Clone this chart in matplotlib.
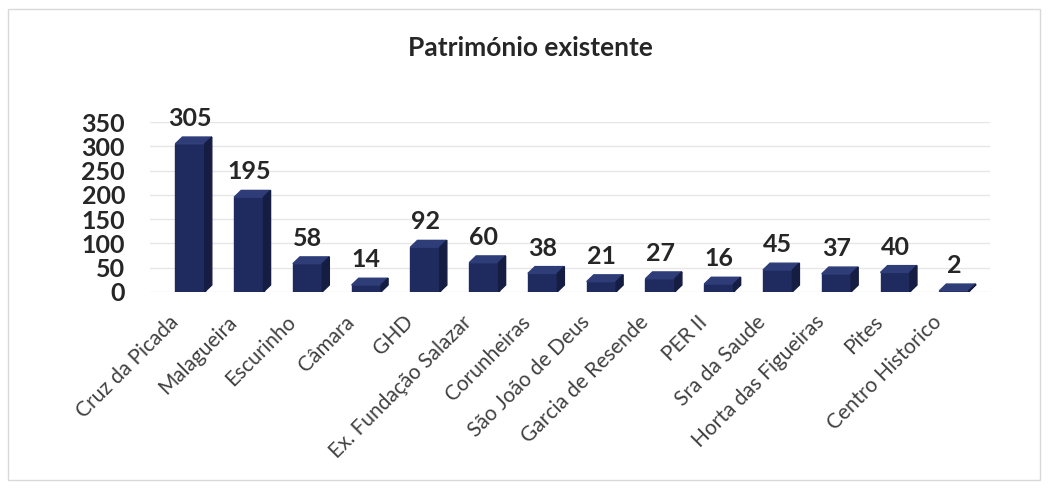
import matplotlib.pyplot as plt
import matplotlib.transforms as mtransforms
from matplotlib.patches import Polygon, Rectangle

plt.rcParams['font.family'] = ['Lato', 'DejaVu Sans']

bairros = ["Cruz da Picada", "Malagueira", "Escurinho", "Câmara", "GHD",
           "Ex. Fundação Salazar", "Corunheiras", "São João de Deus",
           "Garcia de Resende", "PER II", "Sra da Saude", "Horta das Figueiras",
           "Pites", "Centro Historico"]
valores = [305, 195, 58, 14, 92, 60, 38, 21, 27, 16, 45, 37, 40, 2]
y_ticks = [0, 50, 100, 150, 200, 250, 300, 350]

bar_color = "#1f2b5e"
top_color = "#2e3d78"
side_color = "#151d42"

fig = plt.figure(figsize=(10.57, 4.88), dpi=100)
fig.patches.append(Rectangle((0.008, 0.016), 0.976, 0.965, transform=fig.transFigure,
                             fill=False, edgecolor="#d9d9d9", linewidth=1))

ax = fig.add_axes([0.142, 0.402, 0.795, 0.348])
ax.set_xlim(-0.68, 13.62)
ax.set_ylim(0, 350)

width = 0.5
dx = 0.12
dy = 14
xs = list(range(len(bairros)))
ax.bar(xs, valores, width=width, color=bar_color, edgecolor=bar_color, zorder=3)
# faces de topo e lateral (efeito 3D)
for x, v in zip(xs, valores):
    left, right = x - width / 2, x + width / 2
    top = Polygon([(left, v), (left + dx, v + dy), (right + dx, v + dy), (right, v)],
                  closed=True, facecolor=top_color, edgecolor=top_color, zorder=4)
    side = Polygon([(right, 0), (right + dx, dy), (right + dx, v + dy), (right, v)],
                   closed=True, facecolor=side_color, edgecolor=side_color, zorder=4)
    ax.add_patch(top)
    ax.add_patch(side)
    ax.annotate(str(v), (x, v + dy), xytext=(0, 5), textcoords="offset points",
                ha="center", va="bottom", fontsize=18, fontweight="bold",
                color="#262626", annotation_clip=False)

ax.set_yticks(y_ticks)
ax.set_yticklabels([str(t) for t in y_ticks], fontsize=18, fontweight="bold", color="#262626")
ax.set_xticks(xs)
ax.set_xticklabels([])

# rótulos das categorias, rodados 45 graus
lbl_trans = ax.get_xaxis_transform() + mtransforms.ScaledTranslation(-0.22, -0.2, fig.dpi_scale_trans)
for x, nome in zip(xs, bairros):
    ax.text(x, 0, nome, transform=lbl_trans, rotation=45, rotation_mode="anchor",
            ha="right", va="top", fontsize=15, color="#404040", clip_on=False)

ax.tick_params(axis="both", length=0)
ax.tick_params(axis="y", pad=18)
ax.grid(axis="y", color="#e6e6e6", linewidth=1, zorder=0)
for s in ax.spines.values():
    s.set_visible(False)

fig.text(0.502, 0.902, "Património existente", ha="center", va="center",
         fontsize=19, fontweight="bold", color="#262626")

fig.savefig("out.png", dpi=100)
